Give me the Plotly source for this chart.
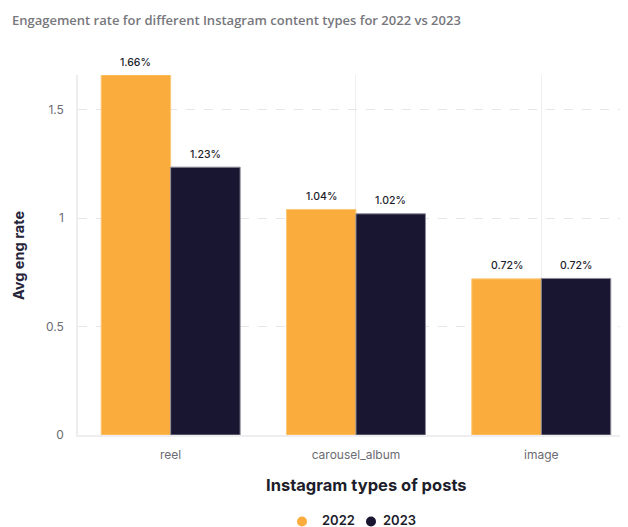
import plotly.graph_objects as go

categories = ["reel", "carousel_album", "image"]
years = ["2022", "2023"]
values_2022 = [1.66, 1.04, 0.72]
values_2023 = [1.235, 1.02, 0.722]
labels_2022 = ["1.66%", "1.04%", "0.72%"]
labels_2023 = ["1.23%", "1.02%", "0.72%"]
colors = ["#FAAD3C", "#181630"]
line_colors = ["#FCC97A", "#8E8C99"]

PW, PH, PL, PB = 550, 360, 78, 435  # plot size and page position of plot left/bottom


def px(x):
    return (x - PL) / PW


def py(y):
    return (PB - y) / PH


fig = go.Figure()
annotations = []
shapes = []
for i, (name, vals, labs, c, lc) in enumerate(zip(years, [values_2022, values_2023],
                                   [labels_2022, labels_2023], colors, line_colors)):
    fig.add_trace(go.Bar(
        x=categories, y=vals, name=name,
        marker=dict(color=c, line=dict(color=lc, width=1)),
        showlegend=False, hoverinfo="skip", offsetgroup=str(i),
    ))
    for j, (cat, v, lab) in enumerate(zip(categories, vals, labs)):
        annotations.append(dict(
            x=j + (-0.1875 if i == 0 else 0.1875), y=v, xref="x", yref="y",
            text=lab, showarrow=False, yanchor="middle", yshift=13,
            font=dict(family="Inter", size=10.5, color="#1d1d2b", weight=500),
        ))

# custom legend (dots + labels)
legend_dot_x = [302, 371]
legend_text_x = [320, 381]
for name, c, dx, tx in zip(years, colors, legend_dot_x, legend_text_x):
    shapes.append(dict(
        type="circle", xref="paper", yref="paper", xsizemode="pixel", ysizemode="pixel",
        xanchor=px(dx), yanchor=py(521.5), x0=-5, x1=5, y0=-5, y1=5,
        fillcolor=c, line=dict(width=0),
    ))
    annotations.append(dict(
        text=name, xref="paper", yref="paper", x=px(tx), y=py(520),
        xanchor="left", yanchor="middle", showarrow=False,
        font=dict(family="Inter", size=13, color="#1d1d2b", weight=600),
    ))

annotations += [
    dict(text="Engagement rate for different Instagram content types for 2022 vs 2023",
         xref="paper", yref="paper", x=px(10), y=py(19.5),
         xanchor="left", yanchor="middle", showarrow=False,
         font=dict(family="Open Sans", size=13, color="#77777d", weight=600)),
    dict(text="Avg eng rate", xref="paper", yref="paper",
         x=px(18), y=py(256), textangle=-90,
         xanchor="center", yanchor="middle", showarrow=False,
         font=dict(family="Inter", size=14.5, color="#25243a", weight=700)),
    dict(text="Instagram types of posts", xref="paper", yref="paper",
         x=px(366), y=py(485),
         xanchor="center", yanchor="middle", showarrow=False,
         font=dict(family="Inter", size=16.5, color="#1d1d2b", weight=700)),
]

# page body has an 8px default margin: figure spans 8..628 x 8..527
fig.update_layout(
    width=620, height=519,
    margin=dict(l=70, r=0, t=67, b=92, autoexpand=False),
    paper_bgcolor="white", plot_bgcolor="white",
    barmode="group", bargap=0.25, bargroupgap=0,
    font=dict(family="Inter", color="#555"),
    showlegend=False,
    xaxis=dict(
        range=[-0.5, 2.468], showgrid=True, gridcolor="#EEEEF0", gridwidth=1,
        showline=True, linecolor="#EEEEF0", linewidth=2,
        tickfont=dict(family="Inter", size=12, color="#6b6b72"),
        ticks="", ticklen=0, ticklabelstandoff=8,
    ),
    yaxis=dict(
        range=[0, 1.66], tickvals=[0, 0.5, 1, 1.5], ticktext=["0", "0.5", "1", "1.5"],
        showgrid=True, gridcolor="#E6E6EA", griddash="dash", gridwidth=1,
        zeroline=False, showline=True, linecolor="#EEEEF0", linewidth=1.5,
        tickfont=dict(family="Inter", size=12, color="#6b6b72"),
        ticks="", ticklabelstandoff=10,
    ),
    annotations=annotations,
    shapes=shapes,
)

fig.write_html("out.html")
